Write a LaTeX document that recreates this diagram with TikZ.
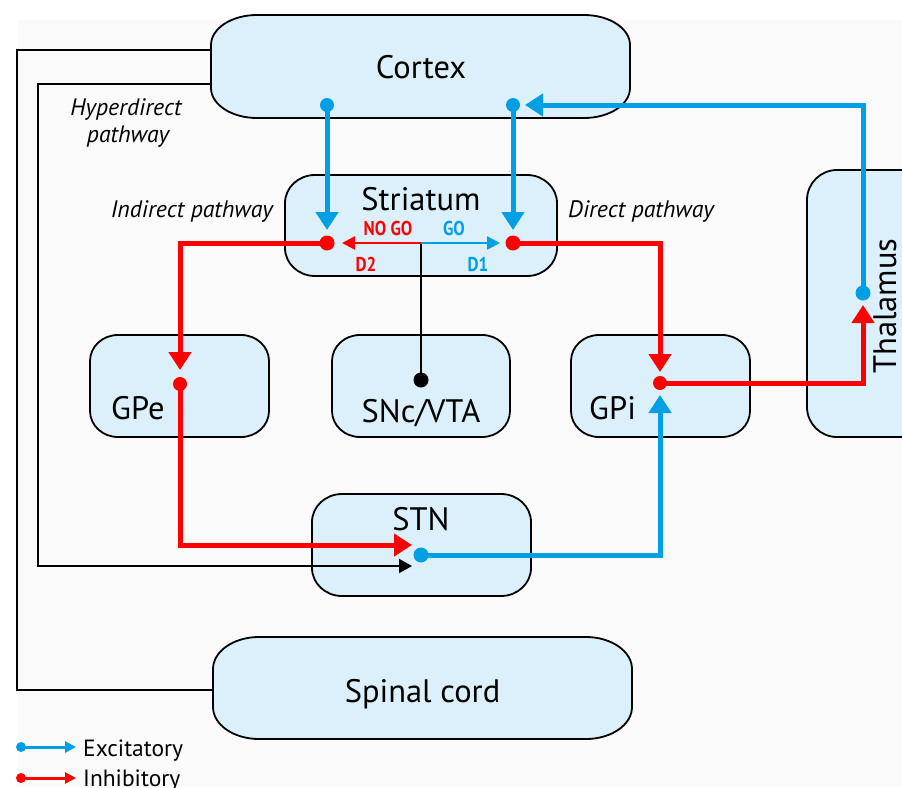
\documentclass[tikz,border=0pt]{standalone}
\usepackage{fontspec}
\setmainfont{PT Sans}
\newfontfamily\condfont[FakeStretch=0.85]{PT Sans}
\usetikzlibrary{arrows.meta}
\definecolor{exc}{RGB}{0,158,226}
\definecolor{inh}{RGB}{255,0,0}
\definecolor{boxfill}{RGB}{220,240,251}
\definecolor{bgband}{RGB}{250,250,250}
\newcommand\drawebox[3]{%
  \draw[boxline] ([xshift=#2]#1.north west) -- ([xshift=-#2]#1.north east)
    arc[start angle=90,end angle=0,x radius=#2,y radius=#3]
    -- ([yshift=#3]#1.south east)
    arc[start angle=0,end angle=-90,x radius=#2,y radius=#3]
    -- ([xshift=#2]#1.south west)
    arc[start angle=270,end angle=180,x radius=#2,y radius=#3]
    -- ([yshift=-#3]#1.north west)
    arc[start angle=180,end angle=90,x radius=#2,y radius=#3] -- cycle;}
\tikzset{
  boxarea/.style={rectangle,inner sep=0pt,outer sep=0pt,draw=none},
  boxline/.style={draw=black,line width=1.8pt,fill=boxfill},
  boxlbl/.style={font=\fontsize{32.5}{36}\selectfont,inner sep=0pt,anchor=base},
  itlbl/.style={font=\fontsize{23.8}{27}\selectfont\itshape,inner sep=0pt},
  cond/.style={font=\fontsize{20}{23}\selectfont\condfont\bfseries,inner sep=0pt,anchor=base},
  exline/.style={draw=exc,line width=5pt,-{Triangle[width=22pt,length=18pt]}},
  inline/.style={draw=inh,line width=5pt,-{Triangle[width=22pt,length=18pt]}},
  exthin/.style={draw=exc,line width=2.5pt,-{Triangle[width=13pt,length=13pt]}},
  inthin/.style={draw=inh,line width=2.5pt,-{Triangle[width=13pt,length=13pt]}},
  blk/.style={draw=black,line width=2pt},
  blkarrow/.style={draw=black,line width=2pt,-{Triangle[width=14pt,length=13pt]}},
  legex/.style={draw=exc,line width=3pt,-{Triangle[width=11pt,length=11pt]}},
  legin/.style={draw=inh,line width=3pt,-{Triangle[width=11pt,length=11pt]}},
  leglbl/.style={font=\fontsize{23.5}{27}\selectfont,inner sep=0pt,anchor=base west},
}
\begin{document}
\begin{tikzpicture}[x=1pt,y=-1pt]
\useasboundingbox (0,0) rectangle (902,787);
\clip (0,0) rectangle (902,787);
\fill[white] (0,0) rectangle (902,787);
\fill[bgband] (17,20) rectangle (902,787);

% boxes
\node[boxarea,minimum width=419pt,minimum height=103pt] (cortex) at (420.5,66.5) {};
\drawebox{cortex}{46pt}{30pt}
\node[boxlbl] (cortexT) at (421,78) {Cortex};

\node[boxarea,minimum width=272pt,minimum height=101pt] (striatum) at (421,225.5) {};
\drawebox{striatum}{30pt}{28pt}
\node[boxlbl] (striatumT) at (421,210) {Striatum};

\node[boxarea,minimum width=179pt,minimum height=102pt] (gpe) at (179.5,386) {};
\drawebox{gpe}{28pt}{26pt}
\node[boxlbl,anchor=base west] (gpeT) at (111,419) {GPe};

\node[boxarea,minimum width=178pt,minimum height=102pt] (snc) at (421,386) {};
\drawebox{snc}{28pt}{26pt}
\node[boxlbl] (sncT) at (421,422) {SNc/VTA};

\node[boxarea,minimum width=179pt,minimum height=102pt] (gpi) at (660.5,386) {};
\drawebox{gpi}{28pt}{26pt}
\node[boxlbl,anchor=base west] (gpiT) at (589,419) {GPi};

\node[boxarea,minimum width=123pt,minimum height=267pt] (thal) at (868.5,303.5) {};
\drawebox{thal}{30pt}{30pt}
\node[boxlbl,rotate=90] (thalT) at (896,306) {Thalamus};

\node[boxarea,minimum width=219pt,minimum height=102pt] (stn) at (421.5,545) {};
\drawebox{stn}{30pt}{28pt}
\node[boxlbl] (stnT) at (421,530) {STN};

\node[boxarea,minimum width=419pt,minimum height=102pt] (spinal) at (422.5,688) {};
\drawebox{spinal}{46pt}{32pt}
\node[boxlbl] (spinalT) at (422.5,702) {Spinal cord};

% pathway labels
\node[itlbl,anchor=base] (hyp1) at (126,115) {Hyperdirect};
\node[itlbl,anchor=base] (hyp2) at (128,142) {pathway};
\node[itlbl,anchor=base east] (indT) at (273,217) {Indirect pathway};
\node[itlbl,anchor=base west] (dirT) at (568,217) {Direct pathway};

% striatum receptor labels
\node[cond,text=inh] (nogo) at (388,235) {NO GO};
\node[cond,text=exc] (go) at (454,235) {GO};
\node[cond,text=inh] (d2) at (366,271) {D2};
\node[cond,text=exc] (d1) at (478,271) {D1};

% points
\coordinate (cxL) at (327,105);
\coordinate (cxR) at (513,105);
\coordinate (stL) at (327,243);
\coordinate (stR) at (513,243);
\coordinate (stC) at (421,243);
\coordinate (snD) at (421,380);
\coordinate (gpeD) at (180,384);
\coordinate (gpiD) at (660,383);
\coordinate (thD) at (863,293);
\coordinate (stnD) at (421,555);
\coordinate (stnI) at (412,545);
\coordinate (stnH) at (412,566);
\coordinate (hypA) at (211,84);
\coordinate (hypB) at (211,50);
\coordinate (scIn) at (213,690);

% black hyperdirect / spinal lines
\draw[blk] (hypB) -| (17,690) -- (scIn);
\draw[blkarrow] (hypA) -| (38,566) -- (stnH);

% dopamine
\draw[blk] (stC) -- (snD);
\fill[black] (snD) circle (7.5);
\draw[inthin,shorten >=15pt] (stC) -- (stL);
\draw[exthin,shorten >=13pt] (stC) -- (stR);

% excitatory
\draw[exline,shorten >=13pt] (cxL) -- (stL);
\draw[exline,shorten >=13pt] (cxR) -- (stR);
\draw[exline,shorten >=12pt] (thD) |- (cxR);
\draw[exline,shorten >=12pt] (stnD) -| (gpiD);

% inhibitory
\draw[inline,shorten >=14pt] (stL) -| (gpeD);
\draw[inline,shorten >=11pt] (stR) -| (gpiD);
\draw[inline] (gpeD) |- (stnI);
\draw[inline,shorten >=12pt] (gpiD) -| (thD);

% dots
\fill[exc] (cxL) circle (7);
\fill[exc] (cxR) circle (7);
\fill[exc] (thD) circle (7.5);
\fill[exc] (stnD) circle (7.5);
\fill[inh] (stL) circle (7.5);
\fill[inh] (stR) circle (7.5);
\fill[inh] (gpeD) circle (7);
\fill[inh] (gpiD) circle (7);

% legend
\coordinate (lgE1) at (21,747);
\coordinate (lgE2) at (76,747);
\coordinate (lgI1) at (21,778);
\coordinate (lgI2) at (76,778);
\draw[legex] (lgE1) -- (lgE2);
\fill[exc] (lgE1) circle (5);
\draw[legin] (lgI1) -- (lgI2);
\fill[inh] (lgI1) circle (5);
\node[leglbl] (lgEt) at (83,756) {Excitatory};
\node[leglbl] (lgIt) at (83,786) {Inhibitory};
\end{tikzpicture}
\end{document}
